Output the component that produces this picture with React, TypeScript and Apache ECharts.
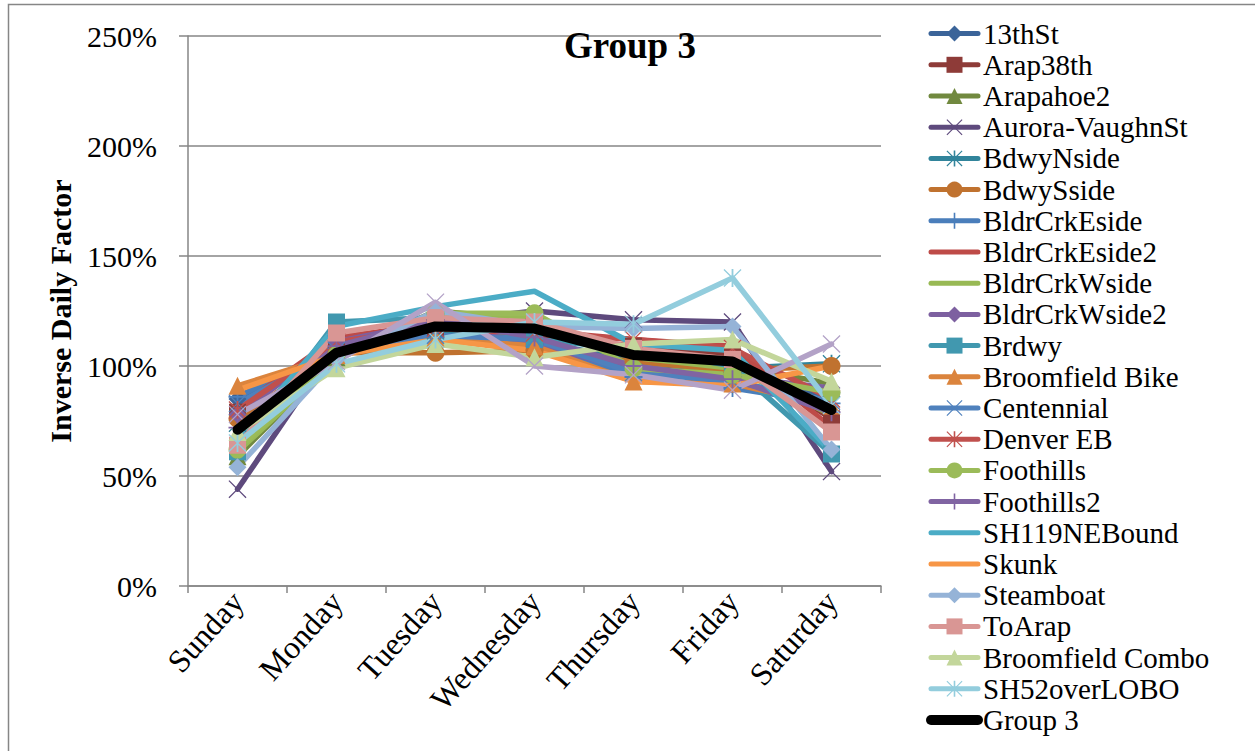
import React, { useEffect, useRef } from "react";
import * as echarts from "echarts";

const days = ["Sunday", "Monday", "Tuesday", "Wednesday", "Thursday", "Friday", "Saturday"];
const yTicks = [0, 0.5, 1, 1.5, 2, 2.5];

const s13thSt = [0.85, 1.08, 1.14, 1.10, 0.99, 0.97, 0.86];
const arap38th = [0.79, 1.12, 1.18, 1.14, 1.09, 1.05, 0.76];
const arapahoe2 = [0.59, 1.04, 1.25, 1.21, 1.03, 1.00, 0.92];
const auroraVaughn = [0.44, 1.10, 1.20, 1.25, 1.21, 1.20, 0.52];
const bdwyNside = [0.74, 1.08, 1.16, 1.11, 1.03, 0.99, 1.01];
const bdwySside = [0.76, 1.06, 1.06, 1.07, 1.02, 0.98, 1.00];
const bldrCrkEside = [0.86, 1.08, 1.13, 1.09, 0.95, 0.90, 0.83];
const bldrCrkEside2 = [0.81, 1.13, 1.19, 1.16, 1.12, 1.09, 0.72];
const bldrCrkWside = [0.61, 1.03, 1.23, 1.22, 1.04, 0.99, 0.78];
const bldrCrkWside2 = [0.78, 1.11, 1.20, 1.10, 0.98, 0.95, 0.90];
const brdwy = [0.61, 1.20, 1.22, 1.12, 1.08, 1.00, 0.60];
const broomfieldBike = [0.91, 1.05, 1.13, 1.09, 0.93, 0.92, 0.82];
const centennial = [0.83, 1.07, 1.14, 1.12, 0.97, 0.93, 0.84];
const denverEB = [0.80, 1.11, 1.17, 1.15, 1.12, 1.08, 0.85];
const foothills = [0.62, 1.05, 1.24, 1.24, 0.99, 0.96, 0.88];
const foothills2 = [0.72, 1.09, 1.21, 1.13, 1.00, 0.94, 0.79];
const sh119 = [0.67, 1.18, 1.27, 1.34, 1.10, 1.07, 0.61];
const skunk = [0.89, 1.05, 1.12, 1.07, 0.93, 0.91, 1.00];
const steamboat = [0.54, 1.03, 1.25, 1.18, 1.17, 1.18, 0.62];
const toArap = [0.64, 1.15, 1.22, 1.20, 1.08, 1.03, 0.70];
const broomfieldCombo = [0.70, 0.99, 1.10, 1.04, 1.10, 1.12, 0.93];
const unlabeled = [0.78, 1.02, 1.29, 1.00, 0.96, 0.89, 1.10];
const sh52 = [0.65, 1.01, 1.12, 1.20, 1.19, 1.40, 0.82];
const group3 = [0.71, 1.06, 1.18, 1.17, 1.05, 1.02, 0.80];

const X_PATH = "path://M0,1L1,0L10,9L19,0L20,1L11,10L20,19L19,20L10,11L1,20L0,19L9,10Z";
const AST_PATH = "path://M0,1L1,0L10,9L19,0L20,1L11,10L20,19L19,20L10,11L1,20L0,19L9,10ZM9,0L11,0L11,20L9,20Z";
const PLUS_PATH = "path://M9,0L11,0L11,9L20,9L20,11L11,11L11,20L9,20L9,11L0,11L0,9L9,9Z";

const seriesDefs: [string, number[], string, string, boolean][] = [
  ["13thSt", s13thSt, "#3B6499", "diamond", true],
  ["Arap38th", arap38th, "#8E3B38", "rect", true],
  ["Arapahoe2", arapahoe2, "#71893F", "triangle", true],
  ["Aurora-VaughnSt", auroraVaughn, "#5E4A7D", X_PATH, true],
  ["BdwyNside", bdwyNside, "#31849B", AST_PATH, true],
  ["BdwySside", bdwySside, "#C0722F", "circle", true],
  ["BldrCrkEside", bldrCrkEside, "#4A7EBB", PLUS_PATH, true],
  ["BldrCrkEside2", bldrCrkEside2, "#BE4B48", "none", true],
  ["BldrCrkWside", bldrCrkWside, "#98B954", "none", true],
  ["BldrCrkWside2", bldrCrkWside2, "#7D60A0", "diamond", true],
  ["Brdwy", brdwy, "#4198AF", "rect", true],
  ["Broomfield Bike", broomfieldBike, "#DB843D", "triangle", true],
  ["Centennial", centennial, "#4F81BD", X_PATH, true],
  ["Denver EB", denverEB, "#C0504D", AST_PATH, true],
  ["Foothills", foothills, "#9BBB59", "circle", true],
  ["Foothills2", foothills2, "#8064A2", PLUS_PATH, true],
  ["SH119NEBound", sh119, "#4BACC6", "none", true],
  ["Skunk", skunk, "#F79646", "none", true],
  ["Steamboat", steamboat, "#95B3D7", "diamond", true],
  ["ToArap", toArap, "#D99694", "rect", true],
  ["Broomfield Combo", broomfieldCombo, "#C3D69B", "triangle", true],
  ["Unlabeled", unlabeled, "#B3A2C7", X_PATH, false],
  ["SH52overLOBO", sh52, "#93CDDD", AST_PATH, true],
];

const FONT = "'Liberation Serif', 'Times New Roman', serif";

export default function App() {
  const ref = useRef<HTMLDivElement>(null);
  useEffect(() => {
    if (!ref.current) return;
    const chart = echarts.init(ref.current, null, { renderer: "svg" });
    const series: any[] = seriesDefs.map(([name, data, color, symbol]) => ({
      name,
      type: "line",
      data,
      symbol,
      symbolSize: symbol === "rect" ? 17 : 18,
      showSymbol: symbol !== "none",
      lineStyle: { color, width: 5.5, cap: "round", join: "round" },
      itemStyle: { color },
      silent: true,
    }));
    series.push({
      name: "Group 3",
      type: "line",
      data: group3,
      symbol: "none",
      z: 5,
      lineStyle: { color: "#000000", width: 10, cap: "round", join: "round" },
      itemStyle: { color: "#000000" },
      silent: true,
    });
    const legendData: any[] = seriesDefs
      .filter((d) => d[4])
      .map(([name, , color, symbol]) => ({
        name,
        lineStyle: { color, width: 5, cap: "round" },
        itemStyle: symbol === "none" ? { color, opacity: 0 } : { color },
      }));
    legendData.push({
      name: "Group 3",
      lineStyle: { color: "#000", width: 10, cap: "round" },
      itemStyle: { color: "#000", opacity: 0 },
    });
    chart.setOption({
      animation: false,
      backgroundColor: "#ffffff",
      title: {
        text: "Group 3",
        left: 564,
        top: 27,
        padding: 0,
        textStyle: { fontFamily: FONT, fontSize: 37, fontWeight: "bold", color: "#000" },
      },
      grid: { left: 188, right: 374, top: 36, bottom: 165, containLabel: false },
      legend: {
        data: legendData,
        orient: "vertical",
        left: 926,
        top: 18,
        padding: 0,
        itemWidth: 47,
        itemHeight: 20,
        itemGap: 0,
        textStyle: { fontFamily: FONT, fontSize: 29, color: "#000", lineHeight: 31.2 },
        selectedMode: false,
      },
      xAxis: {
        type: "category",
        data: days,
        boundaryGap: true,
        axisLine: { lineStyle: { color: "#868686", width: 1.5 } },
        axisTick: { show: true, length: 7, lineStyle: { color: "#868686", width: 1.5 } },
        axisLabel: {
          rotate: 48,
          margin: 10,
          interval: 0,
          fontFamily: FONT,
          fontSize: 32,
          color: "#000",
        },
      },
      yAxis: {
        type: "value",
        min: yTicks[0],
        max: yTicks[yTicks.length - 1],
        interval: 0.5,
        name: "Inverse Daily Factor",
        nameLocation: "middle",
        nameRotate: 90,
        nameGap: 113,
        nameTextStyle: { fontFamily: FONT, fontSize: 30, fontWeight: "bold", color: "#000" },
        axisLine: { show: true, lineStyle: { color: "#868686", width: 1.5 } },
        axisTick: { show: true, length: 9, lineStyle: { color: "#868686", width: 1.5 } },
        splitLine: { lineStyle: { color: "#868686", width: 1.5 } },
        axisLabel: {
          margin: 31,
          fontFamily: FONT,
          fontSize: 30,
          color: "#000",
          formatter: (v: number) => Math.round(v * 100) + "%",
        },
      },
      graphic: [
        {
          type: "rect",
          shape: { x: 8.5, y: 4.5, width: 1300, height: 800 },
          style: { fill: "none", stroke: "#868686", lineWidth: 1.5 },
          silent: true,
        },
      ],
      series,
    });
    return () => chart.dispose();
  }, []);
  return (
    <div
      ref={ref}
      style={{ position: "absolute", left: 0, top: 0, width: 1255, height: 751, background: "#fff" }}
    />
  );
}
